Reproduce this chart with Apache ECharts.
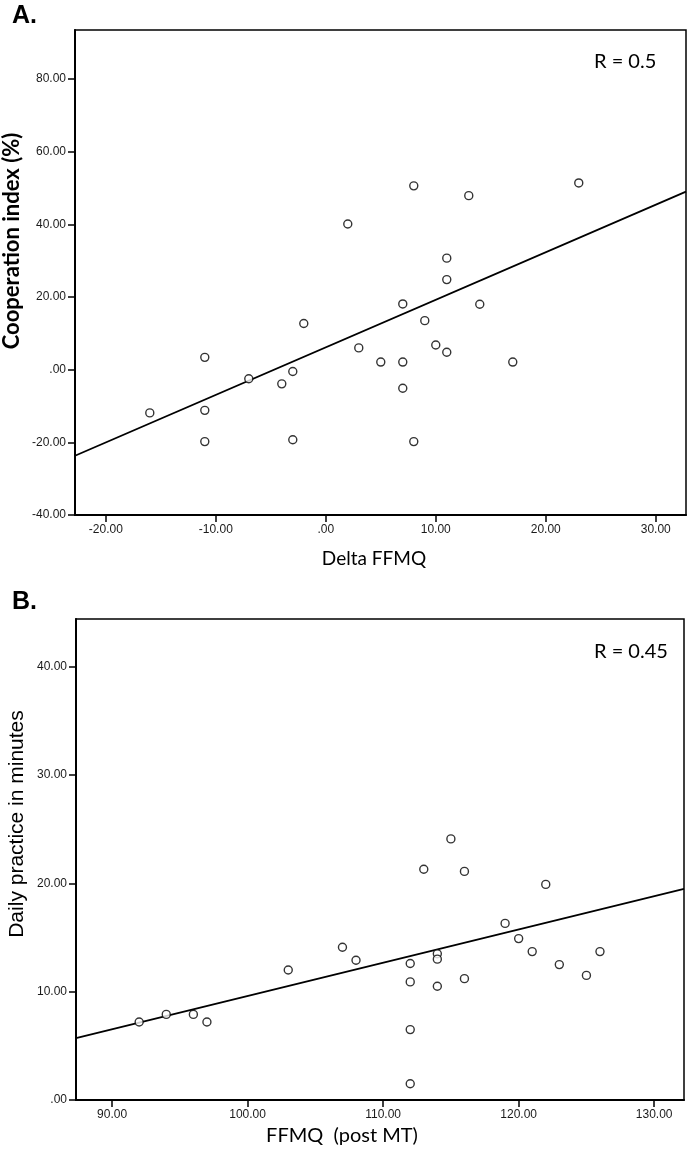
<!DOCTYPE html>
<html>
<head>
<meta charset="utf-8">
<script src="https://cdn.jsdelivr.net/npm/echarts@6/dist/echarts.min.js"></script>
<style>
html,body{margin:0;padding:0;background:#fff;}
#chart{width:689px;height:1156px;}
</style>
</head>
<body>
<div id="chart"></div>
<script>
// ---------- Panel A data ----------
var deltaFFMQ = [8, 13, 23, 2, 11, 11, 7, 14, -2, 9, -11, 3, 10, 11, 5, 7, 17, -7, -3, -4, 7, -16, -11, -11, -3, 8];
var cooperation = [50.6, 47.9, 51.4, 40.1, 30.7, 24.8, 18.1, 18.0, 12.7, 13.5, 3.4, 6.0, 6.8, 4.8, 2.1, 2.1, 2.1, -2.5, -0.5, -3.9, -5.1, -11.9, -11.2, -19.8, -19.3, -19.8];
var fitA = {slope: 1.309, intercept: 6.15};
var xTicksA = [-20, -10, 0, 10, 20, 30];
var yTicksA = [-40, -20, 0, 20, 40, 60, 80];
var xRangeA = [-22.8, 32.75];
var yRangeA = [-40, 93.5];

// ---------- Panel B data ----------
var ffmqPost = [92, 94, 96, 97, 103, 107, 108, 112, 112, 112, 112, 113, 114, 114, 114, 115, 116, 116, 119, 120, 121, 122, 123, 125, 126];
var dailyPractice = [7.2, 7.9, 7.9, 7.2, 12.0, 14.1, 12.9, 12.6, 10.9, 6.5, 1.5, 21.3, 13.5, 13.0, 10.5, 24.1, 21.1, 11.2, 16.3, 14.9, 13.7, 19.9, 12.5, 11.5, 13.7];
var fitB = {slope: 0.307, intercept: -21.1};
var xTicksB = [90, 100, 110, 120, 130];
var yTicksB = [0, 10, 20, 30, 40];
var xRangeB = [87.34, 132.2];
var yRangeB = [0, 44.4];

// ---------- helpers ----------
function pairs(xs, ys){ return xs.map(function(x,i){ return [x, ys[i]]; }); }
function fitLine(fit, range){ return range.map(function(x){ return [x, fit.intercept + fit.slope*x]; }); }
function fmt(v){ return v === 0 ? '.00' : v.toFixed(2); }

var tickFont = {fontFamily: 'Liberation Sans, Arial, sans-serif', fontSize: 12, color: '#1a1a1a'};

function valueAxis(gridIndex, range, ticks, isY){
  return {
    type: 'value', gridIndex: gridIndex, min: range[0], max: range[1],
    axisLine: {show: true, onZero: false, lineStyle: {color: '#000', width: 2}},
    axisTick: {show: true, inside: false, length: 7, customValues: ticks, lineStyle: {color: '#000', width: 1.5}},
    axisLabel: Object.assign({show: true, margin: 9, customValues: ticks, formatter: fmt}, tickFont),
    splitLine: {show: false}
  };
}

var markerStyle = {color: '#fff', borderColor: '#000', borderWidth: 1.4};

var chart = echarts.init(document.getElementById('chart'), null, {renderer: 'canvas'});
chart.setOption({
  animation: false,
  backgroundColor: '#fff',
  grid: [
    {left: 75, top: 30, width: 611, height: 485, show: true, borderColor: '#000', borderWidth: 1.5, backgroundColor: 'transparent'},
    {left: 76, top: 619, width: 608, height: 481, show: true, borderColor: '#000', borderWidth: 1.5, backgroundColor: 'transparent'}
  ],
  xAxis: [
    valueAxis(0, xRangeA, xTicksA, false),
    valueAxis(1, xRangeB, xTicksB, false)
  ],
  yAxis: [
    valueAxis(0, yRangeA, yTicksA, true),
    valueAxis(1, yRangeB, yTicksB, true)
  ],
  series: [
    {type: 'line', xAxisIndex: 0, yAxisIndex: 0, data: fitLine(fitA, xRangeA), symbol: 'none', lineStyle: {color: '#000', width: 1.8}, z: 2},
    {type: 'scatter', xAxisIndex: 0, yAxisIndex: 0, data: pairs(deltaFFMQ, cooperation), symbol: 'circle', symbolSize: 8, itemStyle: markerStyle, z: 3},
    {type: 'line', xAxisIndex: 1, yAxisIndex: 1, data: fitLine(fitB, xRangeB), symbol: 'none', lineStyle: {color: '#000', width: 1.8}, z: 2},
    {type: 'scatter', xAxisIndex: 1, yAxisIndex: 1, data: pairs(ffmqPost, dailyPractice), symbol: 'circle', symbolSize: 8, itemStyle: markerStyle, z: 3}
  ],
  graphic: [
    {type: 'text', left: 12, top: 4, style: {text: 'A.', font: 'bold 25px "Liberation Sans", Arial, sans-serif', fill: '#000'}},
    {type: 'text', left: 12, top: 590, style: {text: 'B.', font: 'bold 25px "Liberation Sans", Arial, sans-serif', fill: '#000'}},
    {type: 'text', x: 594, y: 62, style: {text: 'R = 0.5', font: '20px Lato, sans-serif', fill: '#000', textAlign: 'left', textVerticalAlign: 'middle'}},
    {type: 'text', x: 594, y: 652, style: {text: 'R = 0.45', font: '20px Lato, sans-serif', fill: '#000', textAlign: 'left', textVerticalAlign: 'middle'}},
    {type: 'text', x: 12, y: 241, rotation: Math.PI/2, style: {text: 'Cooperation index (%)', font: 'bold 22px Lato, sans-serif', fill: '#000', textAlign: 'center', textVerticalAlign: 'middle'}},
    {type: 'text', x: 17, y: 824, rotation: Math.PI/2, style: {text: 'Daily practice in minutes', font: '21px "Liberation Sans", Arial, sans-serif', fill: '#000', textAlign: 'center', textVerticalAlign: 'middle'}},
    {type: 'text', x: 374, y: 559, style: {text: 'Delta FFMQ', font: '19px Lato, sans-serif', fill: '#000', textAlign: 'center', textVerticalAlign: 'middle'}},
    {type: 'text', x: 342, y: 1136, style: {text: 'FFMQ  (post MT)', font: '20px Lato, sans-serif', fill: '#000', textAlign: 'center', textVerticalAlign: 'middle'}}
  ]
});
</script>
</body>
</html>
